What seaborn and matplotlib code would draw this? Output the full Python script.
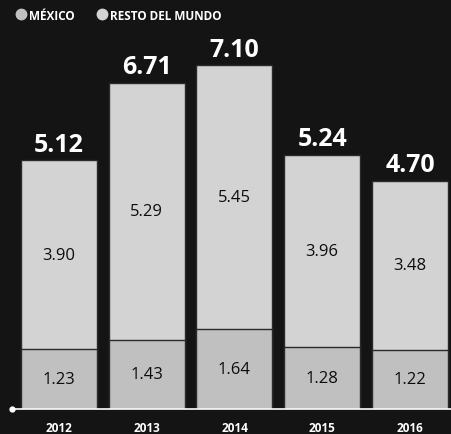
import matplotlib
matplotlib.use("Agg")
import matplotlib.pyplot as plt
from matplotlib.lines import Line2D
import seaborn as sns
import pandas as pd

years = ["2012", "2013", "2014", "2015", "2016"]
mexico = [1.23, 1.43, 1.64, 1.28, 1.22]
resto = [3.90, 5.29, 5.45, 3.96, 3.48]
totals = [5.12, 6.71, 7.10, 5.24, 4.70]
series_names = ["MÉXICO", "RESTO DEL MUNDO"]

BG = "#141414"
C_MEX = "#c0c0c0"
C_REST = "#d3d3d3"

df = pd.DataFrame({"year": years, "mexico": mexico, "resto": resto, "total": totals})
df["stack"] = df["mexico"] + df["resto"]

sns.set_theme(style="dark")
plt.rcParams["font.family"] = ["Open Sans", "DejaVu Sans"]

fig = plt.figure(figsize=(4.52, 4.35), dpi=100, facecolor=BG)
ax = fig.add_axes([0, 25 / 435, 1, 410 / 435])
ax.set_facecolor(BG)

sns.barplot(data=df, x="year", y="stack", color=C_REST, saturation=1, width=0.866,
            edgecolor="#2a2a2a", linewidth=1.0, ax=ax)
sns.barplot(data=df, x="year", y="mexico", color=C_MEX, saturation=1, width=0.866,
            edgecolor="#2a2a2a", linewidth=1.0, ax=ax)

ax.set_xlim(-0.672, 4.479)
ax.set_ylim(0, 8.45)
for s in ax.spines.values():
    s.set_visible(False)
ax.set_xlabel("")
ax.set_ylabel("")
ax.set_yticks([])
ax.tick_params(axis="x", length=0, pad=9, colors="white", labelsize=8.5)
for lab in ax.get_xticklabels():
    lab.set_fontweight("bold")

# baseline
ax.axhline(0, xmin=12 / 452, xmax=1, color="white", lw=1.2, zorder=5, clip_on=False)
ax.plot([-0.672 + 12 / 452 * 5.151], [0], "o", color="white", ms=3.5, zorder=6, clip_on=False)

for i in range(len(years)):
    ax.text(i, mexico[i] / 2, f"{mexico[i]:.2f}", ha="center", va="center",
            fontsize=12, color="#0d0d0d", zorder=7)
    ax.text(i, mexico[i] + resto[i] / 2, f"{resto[i]:.2f}", ha="center", va="center",
            fontsize=12, color="#0d0d0d", zorder=7)
    ax.annotate(f"{totals[i]:.2f}", (i, mexico[i] + resto[i]), xytext=(0, 2.5),
                textcoords="offset points", ha="center", va="bottom",
                fontsize=18, fontweight="bold", color="white")

handles = [Line2D([], [], marker="o", ls="", color=c, ms=7.5) for c in (C_MEX, C_REST)]
leg = fig.legend(handles, series_names, loc="upper left", bbox_to_anchor=(0.01, 1.0),
                 ncol=2, frameon=False, handletextpad=0.0, columnspacing=1.3,
                 handlelength=1.0, borderaxespad=0.2)
for t in leg.get_texts():
    t.set_color("white")
    t.set_fontweight("bold")
    t.set_fontsize(8.5)

fig.savefig("out.png", dpi=100, facecolor=BG)
